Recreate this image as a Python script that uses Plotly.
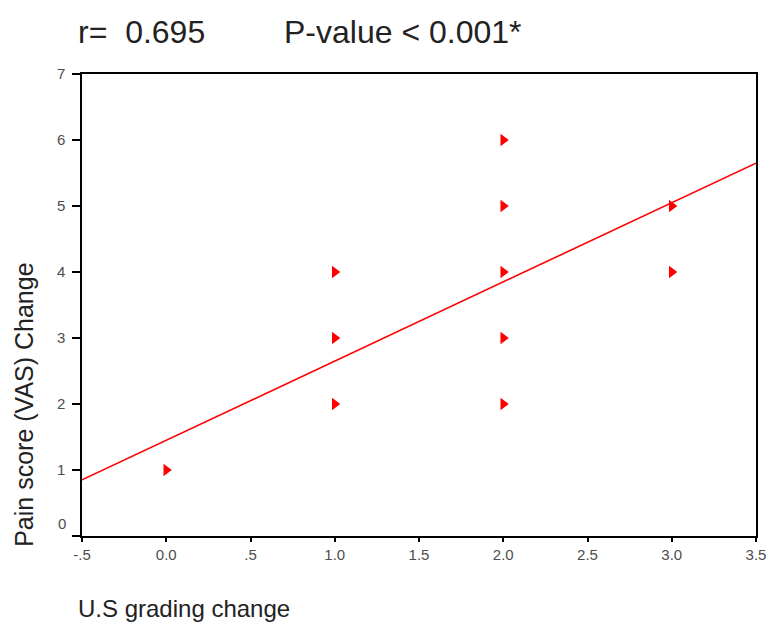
import plotly.graph_objects as go

# Data
us_change = [0, 1, 1, 1, 2, 2, 2, 2, 2, 3, 3]
vas_change = [1, 2, 3, 4, 2, 3, 4, 5, 6, 4, 5]
fit_x = [-0.5, 3.5]
fit_y = [0.85, 5.65]
x_tickvals = [-0.5, 0, 0.5, 1.0, 1.5, 2.0, 2.5, 3.0, 3.5]
x_ticktext = ["-.5", "0.0", ".5", "1.0", "1.5", "2.0", "2.5", "3.0", "3.5"]
y_tickvals = [0, 1, 2, 3, 4, 5, 6, 7]
y_ticktext = ["", "1", "2", "3", "4", "5", "6", "7"]

FONT = "Liberation Sans, Arial"
TICKFONT = dict(family=FONT, size=15, color="#4d4d4d")

fig = go.Figure()
fig.add_trace(go.Scatter(x=fit_x, y=fit_y, mode="lines",
                         line=dict(color="#ff0000", width=1.6), showlegend=False))
fig.add_trace(go.Scatter(x=us_change, y=vas_change, mode="markers",
                         marker=dict(symbol="triangle-right", size=11, color="#ff0000",
                                     line=dict(width=0)),
                         showlegend=False))

axis_common = dict(showline=True, linecolor="black", linewidth=1.5, mirror=True,
                   ticks="outside", tickcolor="black", tickwidth=1.5,
                   showgrid=False, zeroline=False, automargin=False,
                   tickfont=TICKFONT)

fig.update_layout(
    width=768, height=622,
    margin=dict(l=82, r=12, t=74, b=86, autoexpand=False),
    paper_bgcolor="white", plot_bgcolor="white",
    xaxis=dict(range=[-0.5, 3.5], tickvals=x_tickvals, ticktext=x_ticktext,
               ticklen=4, **axis_common),
    yaxis=dict(range=[0, 7], tickvals=y_tickvals, ticktext=y_ticktext,
               ticklen=8, ticklabelstandoff=4, **axis_common),
    annotations=[
        dict(text="0", xref="paper", yref="paper", x=-0.021, y=0.026,
             xanchor="right", yanchor="middle", showarrow=False, font=TICKFONT),
        dict(text="r=  0.695", xref="paper", yref="paper", x=-0.009, y=1.091,
             xanchor="left", yanchor="middle", showarrow=False,
             font=dict(family=FONT, size=32, color="#222222")),
        dict(text="P-value < 0.001*", xref="paper", yref="paper", x=0.296, y=1.091,
             xanchor="left", yanchor="middle", showarrow=False,
             font=dict(family=FONT, size=32, color="#222222")),
        dict(text="U.S grading change", xref="paper", yref="paper", x=-0.009, y=-0.158,
             xanchor="left", yanchor="middle", showarrow=False,
             font=dict(family=FONT, size=24, color="#222222")),
        dict(text="Pain score (VAS) Change", xref="paper", yref="paper", x=-0.086, y=0.284,
             xanchor="center", yanchor="middle", textangle=-90, showarrow=False,
             font=dict(family=FONT, size=25, color="#222222")),
    ],
)

fig.write_html("out.html", config={"displayModeBar": False},
               post_script="document.body.style.margin='0';")
